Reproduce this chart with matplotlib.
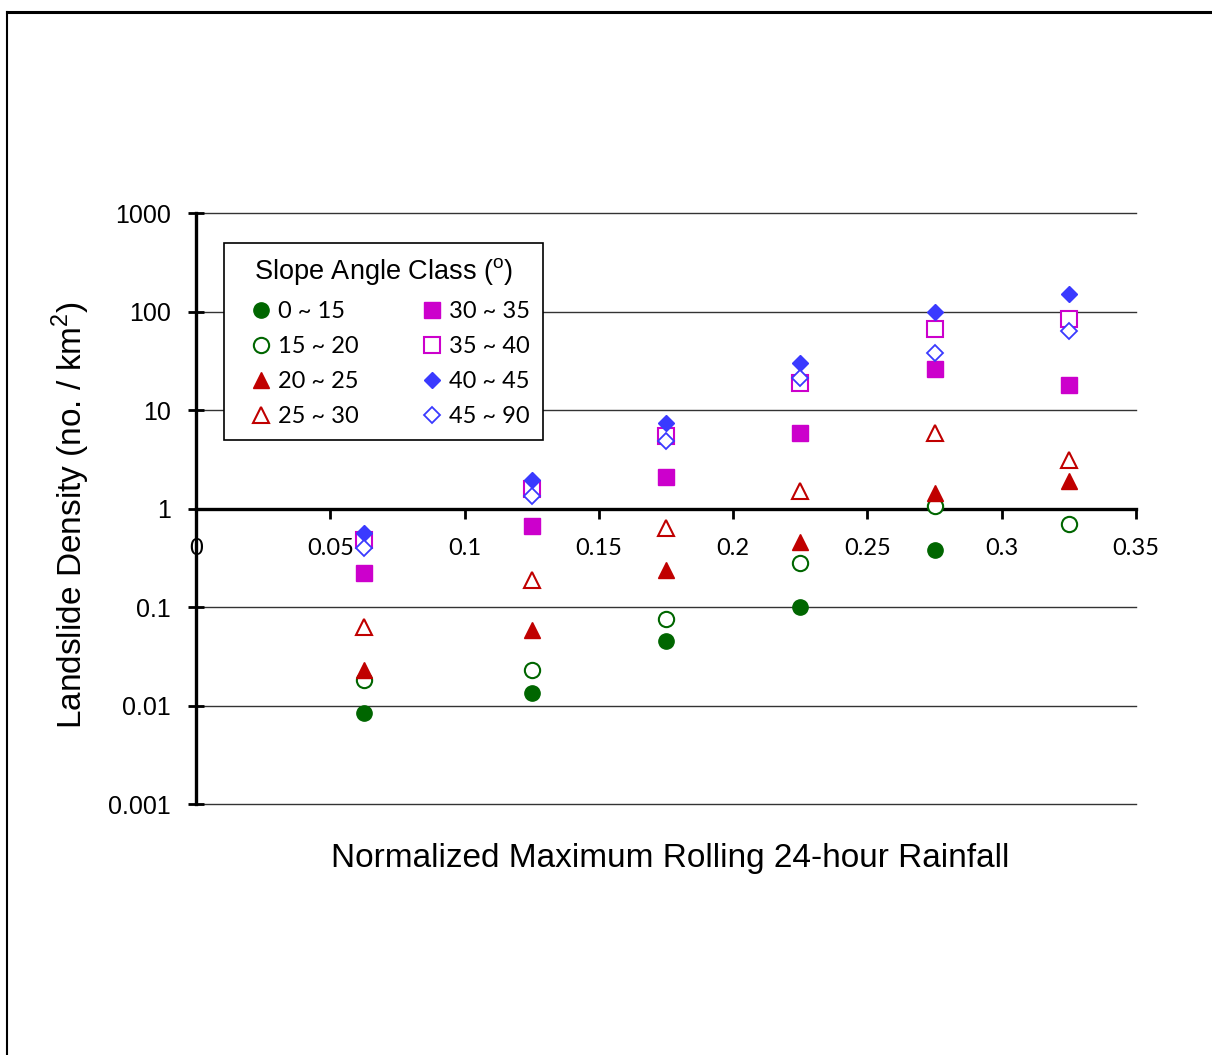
import numpy as np
import matplotlib
matplotlib.use('Agg')
import matplotlib.pyplot as plt
from matplotlib.lines import Line2D

# normalized max rolling 24-hour rainfall (bin centres)
rain = [0.0625, 0.125, 0.175, 0.225, 0.275, 0.325]

classes = ['0 ~ 15', '15 ~ 20', '20 ~ 25', '25 ~ 30',
           '30 ~ 35', '35 ~ 40', '40 ~ 45', '45 ~ 90']

d_0_15 = [0.0083, 0.0135, 0.045, 0.10, 0.38, np.nan]
d_15_20 = [0.018, 0.023, 0.075, 0.28, 1.05, 0.70]
d_20_25 = [0.023, 0.059, 0.24, 0.46, 1.45, 1.92]
d_25_30 = [0.063, 0.19, 0.64, 1.5, 5.9, 3.1]
d_30_35 = [0.22, 0.66, 2.1, 5.8, 26, 18]
d_35_40 = [0.48, 1.56, 5.5, 19, 66, 83]
d_40_45 = [0.57, 1.97, 7.3, 30, 98, 149]
d_45_90 = [0.40, 1.35, 4.9, 21, 38, 64]

series = [d_0_15, d_15_20, d_20_25, d_25_30, d_30_35, d_35_40, d_40_45, d_45_90]

xticks = [0, 0.05, 0.1, 0.15, 0.2, 0.25, 0.3, 0.35]
xticklabels = ['0', '0.05', '0.1', '0.15', '0.2', '0.25', '0.3', '0.35']
yticks = [0.001, 0.01, 0.1, 1, 10, 100, 1000]
yticklabels = ['0.001', '0.01', '0.1', '1', '10', '100', '1000']

green = '#006600'
red = '#C00000'
mag = '#CC00CC'
blue = '#3A3AFF'
styles = [
    dict(marker='o', color=green, mfc=green, ms=11),
    dict(marker='o', color=green, mfc='white', ms=11, mew=1.5),
    dict(marker='^', color=red, mfc=red, ms=11),
    dict(marker='^', color=red, mfc='white', ms=11, mew=1.5),
    dict(marker='s', color=mag, mfc=mag, ms=11),
    dict(marker='s', color=mag, mfc='white', ms=11, mew=1.5),
    dict(marker='D', color=blue, mfc=blue, ms=8),
    dict(marker='D', color=blue, mfc='white', ms=8, mew=1.3),
]

fig = plt.figure(figsize=(12.12, 10.55), dpi=100)
ax = fig.add_axes([0.1617, 0.2379, 0.7756, 0.5602])

for vals, lab, st in zip(series, classes, styles):
    ax.plot(rain, vals, linestyle='none', label=lab, zorder=3, **st)

ax.set_yscale('log')
ax.set_ylim(0.001, 1000)
ax.set_xlim(0, 0.35)
ax.set_xticks(xticks)
ax.set_xticklabels(xticklabels)
ax.set_yticks(yticks)
ax.set_yticklabels(yticklabels)
ax.yaxis.set_minor_locator(matplotlib.ticker.NullLocator())

ax.grid(axis='y', color='#333333', lw=1.0, zorder=1)
for gl in ax.get_ygridlines():
    gl.set_clip_on(False)
ax.spines['top'].set_visible(False)
ax.spines['right'].set_visible(False)
ax.spines['bottom'].set_position(('data', 1))
ax.spines['bottom'].set_linewidth(2.4)
ax.spines['left'].set_linewidth(2.4)
ax.tick_params(axis='x', direction='out', length=7, width=2, pad=14, labelsize=17)
ax.tick_params(axis='y', direction='inout', length=12, width=2, pad=12, labelsize=18)
for t in ax.get_xticklabels():
    t.set_fontfamily('Lato')
for t in ax.get_yticklabels():
    t.set_fontfamily('Liberation Sans')

ax.set_xlabel('Normalized Maximum Rolling 24-hour Rainfall',
              fontfamily='Liberation Sans', fontsize=24, labelpad=0)
ax.xaxis.set_label_coords(0.504, -0.066)
ax.set_ylabel('Landslide Density (no. / km$^\\mathregular{2}$)',
              fontfamily='Liberation Sans', fontsize=24)
ax.yaxis.set_label_coords(-0.1106, 0.489)

leg = ax.legend(ncol=2, loc='upper left', bbox_to_anchor=(0.0298, 0.949),
                borderaxespad=0, title='Slope Angle Class ($^\\mathregular{o}$)',
                prop={'family': 'Lato', 'size': 17}, frameon=True, fancybox=False,
                edgecolor='black', framealpha=1, handletextpad=-0.28,
                columnspacing=2.1, labelspacing=0.59, borderpad=0.55,
                handlelength=2.0)
leg.get_title().set_fontfamily('Liberation Sans')
leg.get_title().set_fontsize(19.5)
leg._legend_box.sep = 10
leg.get_frame().set_linewidth(1.2)

# outer frame (top and left edges)
fig.add_artist(Line2D([7 / 1212, 1], [1 - 12 / 1055, 1 - 12 / 1055],
                      transform=fig.transFigure, color='black', lw=2.2))
fig.add_artist(Line2D([7 / 1212, 7 / 1212], [0, 1 - 12 / 1055],
                      transform=fig.transFigure, color='black', lw=1.5))

fig.savefig('out.png', dpi=100)
